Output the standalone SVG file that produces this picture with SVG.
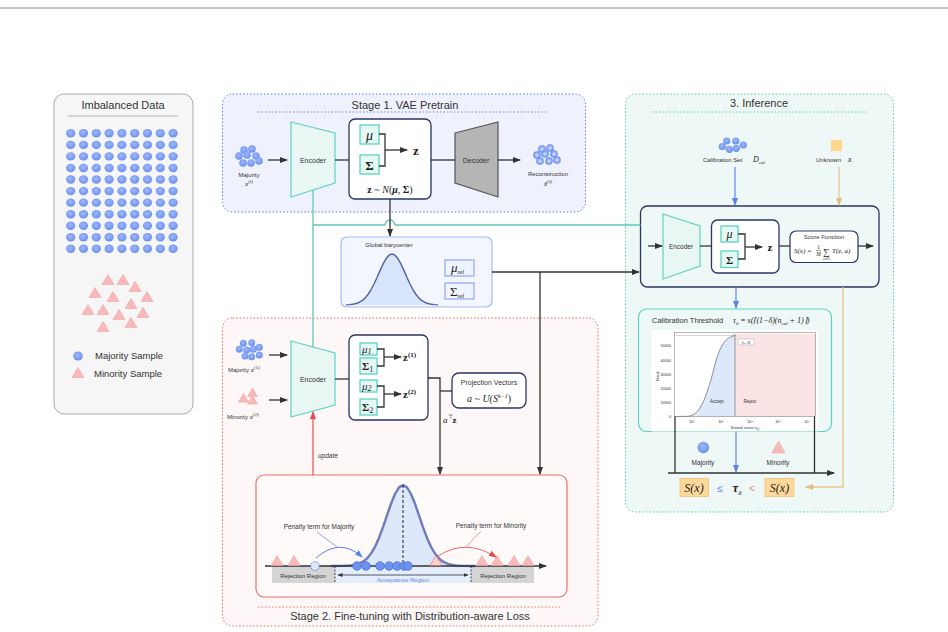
<svg xmlns="http://www.w3.org/2000/svg" xmlns:xlink="http://www.w3.org/1999/xlink" width="948" height="632" viewBox="0 0 948 632">
<style>
.sans{font-family:"Liberation Sans",Arial,sans-serif;fill:#333}
.serif{font-family:"Liberation Serif","Times New Roman",serif;fill:#222}
.t11{font-size:11px}
.t8{font-size:8px}
.t7{font-size:7px}
.t6{font-size:6px}
.enc{fill:#e8f7f4;stroke:#5fd3c0;stroke-width:1.2}
.lat{fill:#fff;stroke:#2c3461;stroke-width:1.3}
.mbox{fill:#e6f8f4;stroke:#4fd1bd;stroke-width:1.2}
.ln{fill:none;stroke:#333;stroke-width:1.3}
.teal{fill:none;stroke:#5cc9b5;stroke-width:1.3}
.maj{fill:url(#gdot)}
.min{fill:#f7b9b9;stroke:#f2a3a3;stroke-width:0.6}
.axdot{fill:#6e93ef;stroke:#4a72e0;stroke-width:0.8}
</style>
<defs>
<radialGradient id="gdot" cx="45%" cy="40%" r="60%">
<stop offset="0" stop-color="#9fb9fa"/>
<stop offset="1" stop-color="#6b8ff0"/>
</radialGradient>
<radialGradient id="gring" cx="50%" cy="50%" r="50%">
<stop offset="0" stop-color="#dfe8ff"/>
<stop offset="0.5" stop-color="#9db6f8"/>
<stop offset="1" stop-color="#5f86ee"/>
</radialGradient>
<marker id="ah" markerWidth="8" markerHeight="6" refX="7" refY="3" orient="auto" markerUnits="userSpaceOnUse"><path d="M0,0 L8,3 L0,6 Z" fill="#333"/></marker>
<marker id="ahb" markerWidth="8" markerHeight="6" refX="7" refY="3" orient="auto" markerUnits="userSpaceOnUse"><path d="M0,0 L8,3 L0,6 Z" fill="#5b82ee"/></marker>
<marker id="aho" markerWidth="8" markerHeight="6" refX="7" refY="3" orient="auto" markerUnits="userSpaceOnUse"><path d="M0,0 L8,3 L0,6 Z" fill="#e2bd83"/></marker>
<marker id="ahr" markerWidth="8" markerHeight="6" refX="7" refY="3" orient="auto" markerUnits="userSpaceOnUse"><path d="M0,0 L8,3 L0,6 Z" fill="#e84a4a"/></marker>
<marker id="ahs" markerWidth="5" markerHeight="4" refX="4.5" refY="2" orient="auto-start-reverse" markerUnits="userSpaceOnUse"><path d="M0,0 L5,2 L0,4 Z" fill="#333"/></marker>
<path id="tri" d="M0,-5.5 L6,4.5 L-6,4.5 Z"/>
<path id="tris" d="M0,-4.5 L5,4 L-5,4 Z"/>
<ellipse id="dot" rx="4.6" ry="4.2"/>
<g id="row">
<use href="#dot" x="70.7"/><use href="#dot" x="83.5"/><use href="#dot" x="96.3"/><use href="#dot" x="109.1"/><use href="#dot" x="121.9"/><use href="#dot" x="134.7"/><use href="#dot" x="147.5"/><use href="#dot" x="160.3"/><use href="#dot" x="173.1"/>
</g>
</defs>

<line x1="0" y1="8" x2="948" y2="8" stroke="#777" stroke-width="0.8"/>

<!-- Left panel -->
<g id="imbalanced-data">
<rect x="54" y="94" width="139" height="320" rx="10" fill="#f6f6f6" stroke="#aaa" stroke-width="1"/>
<text x="123" y="109" text-anchor="middle" class="sans t11">Imbalanced Data</text>
<line x1="68" y1="116" x2="178" y2="116" stroke="#aaa" stroke-width="0.8"/>
<g class="maj">
<use href="#row" y="133.3"/><use href="#row" y="144.9"/><use href="#row" y="156.4"/><use href="#row" y="168"/><use href="#row" y="179.5"/><use href="#row" y="191.1"/><use href="#row" y="202.6"/><use href="#row" y="214.2"/><use href="#row" y="225.7"/><use href="#row" y="237.3"/><use href="#row" y="248.8"/>
</g>
<g class="min">
<use href="#tri" x="108" y="280"/><use href="#tri" x="123" y="280"/><use href="#tri" x="135" y="287"/><use href="#tri" x="95" y="293"/><use href="#tri" x="113" y="297"/><use href="#tri" x="147" y="297"/><use href="#tri" x="131" y="304"/><use href="#tri" x="88" y="310"/><use href="#tri" x="103" y="310"/><use href="#tri" x="119" y="315"/><use href="#tri" x="143" y="313"/><use href="#tri" x="103" y="327"/><use href="#tri" x="131" y="323"/>
</g>
<ellipse cx="78" cy="356" rx="4.8" ry="4.5" class="maj"/>
<text x="95" y="359" class="sans" font-size="9.5">Majority Sample</text>
<use href="#tri" x="78" y="373" class="min"/>
<text x="94" y="377" class="sans" font-size="9.5">Minority Sample</text>
</g>

<!-- Stage 1 -->
<g id="stage1">
<rect x="222.5" y="94" width="363" height="118" rx="10" fill="#eff1fc" stroke="#5b7fe0" stroke-width="1" stroke-dasharray="1.5,2"/>
<text x="405" y="109" text-anchor="middle" class="sans t11">Stage 1. VAE Pretrain</text>
<line x1="258" y1="112" x2="548" y2="112" stroke="#5b7fe0" stroke-width="0.9" stroke-dasharray="1.5,2"/>
</g>
<g id="s1-majority">
<g class="maj">
<circle cx="244" cy="150" r="3.8"/><circle cx="252" cy="149" r="3.8"/><circle cx="239" cy="156" r="3.8"/><circle cx="247" cy="155" r="3.8"/><circle cx="256" cy="156" r="3.8"/><circle cx="243" cy="163" r="3.8"/><circle cx="251" cy="163" r="3.8"/><circle cx="259" cy="161" r="3.8"/>
</g>
<text x="249" y="177" text-anchor="middle" class="sans t6">Majority</text>
<text x="249" y="186" text-anchor="middle" class="serif" font-size="7" font-style="italic">x<tspan font-size="5" dy="-3">(i)</tspan></text>
</g>
<g id="s1-encoder">
<path d="M291,122 L335,133 L335,183 L291,197 Z" class="enc"/>
<text x="313" y="163" text-anchor="middle" class="sans t7">Encoder</text>
</g>
<g id="s1-latent">
<rect x="349" y="119" width="82" height="80" rx="6" class="lat"/>
<rect x="360" y="125" width="19" height="19" class="mbox"/>
<text x="369.5" y="140" text-anchor="middle" class="serif" font-size="14" font-style="italic">μ</text>
<rect x="360" y="155" width="19" height="19" class="mbox"/>
<text x="369.5" y="170" text-anchor="middle" class="serif" font-size="13" font-weight="bold">Σ</text>
<path d="M379,134 H385 V166 H379" class="ln"/>
<path d="M385,150 H407" class="ln" marker-end="url(#ah)"/>
<text x="416" y="155" text-anchor="middle" class="serif" font-size="13" font-weight="bold">z</text>
<text x="390" y="193" text-anchor="middle" class="serif" font-size="10"><tspan font-weight="bold">z</tspan> ~ <tspan font-style="italic">N</tspan>(<tspan font-weight="bold" font-style="italic">μ</tspan>, <tspan font-weight="bold">Σ</tspan>)</text>
</g>
<g id="s1-decoder">
<path d="M455,133 L498,122 L498,197 L455,183 Z" fill="#b5b5b5" stroke="#555" stroke-width="1.2"/>
<text x="476" y="163" text-anchor="middle" class="sans t7">Decoder</text>
</g>
<g id="s1-reconstruction">
<g fill="url(#gring)">
<circle cx="542" cy="149" r="3.8"/><circle cx="550" cy="148" r="3.8"/><circle cx="537" cy="155" r="3.8"/><circle cx="545" cy="154" r="3.8"/><circle cx="554" cy="154" r="3.8"/><circle cx="540" cy="161" r="3.8"/><circle cx="549" cy="161" r="3.8"/><circle cx="557" cy="160" r="3.8"/>
</g>
<text x="548" y="176" text-anchor="middle" class="sans t6">Reconstruction</text>
<text x="548" y="186" text-anchor="middle" class="serif" font-size="7" font-style="italic">x̂<tspan font-size="5" dy="-3">(i)</tspan></text>
</g>

<!-- Global barycenter -->
<g id="barycenter">
<rect x="341" y="237" width="151" height="70" rx="6" fill="#f4f6fe" stroke="#a9b9f5" stroke-width="1.2"/>
<text x="389" y="247" text-anchor="middle" class="sans" font-size="6">Global barycenter</text>
<path d="M346,304.9 L350,304.6 L354,304 L358,302.9 L362,300.7 L365,298.1 L368,294.5 L371,289.8 L374,284 L377,277.5 L380,270.6 L383,264.2 L386,258.8 L389,255.2 L392,254 L395,255.2 L398,258.8 L401,264.2 L404,270.6 L407,277.5 L410,284 L413,289.8 L416,294.5 L419,298.1 L422,300.7 L426,302.9 L430,304 L434,304.6 L438,304.9 Z" fill="#d9e5fb" stroke="none"/>
<path d="M346,304.9 L350,304.6 L354,304 L358,302.9 L362,300.7 L365,298.1 L368,294.5 L371,289.8 L374,284 L377,277.5 L380,270.6 L383,264.2 L386,258.8 L389,255.2 L392,254 L395,255.2 L398,258.8 L401,264.2 L404,270.6 L407,277.5 L410,284 L413,289.8 L416,294.5 L419,298.1 L422,300.7 L426,302.9 L430,304 L434,304.6 L438,304.9" fill="none" stroke="#4f5f9e" stroke-width="1.4" stroke-linejoin="round"/>
<rect x="445" y="260" width="29" height="16" fill="#f0f4ff" stroke="#8fa8ef" stroke-width="1.2"/>
<text x="451" y="272" class="serif" font-size="13" font-style="italic">μ<tspan font-size="6" font-style="normal" dy="2">ref</tspan></text>
<rect x="445" y="283" width="29" height="16" fill="#f0f4ff" stroke="#8fa8ef" stroke-width="1.2"/>
<text x="450" y="296" class="serif" font-size="13">Σ<tspan font-size="6" dy="2">ref</tspan></text>
</g>

<!-- Stage 2 -->
<g id="stage2">
<rect x="222.5" y="318" width="375.5" height="308" rx="10" fill="#fdf7f7" stroke="#e66a6a" stroke-width="1" stroke-dasharray="1.5,2"/>
<line x1="258" y1="607" x2="560" y2="607" stroke="#e66a6a" stroke-width="0.9" stroke-dasharray="1.5,2"/>
<text x="410" y="620" text-anchor="middle" class="sans t11">Stage 2. Fine-tuning with Distribution-aware Loss</text>
</g>
<g id="s2-inputs">
<g class="maj">
<circle cx="243.3" cy="343.3" r="3.5"/><circle cx="251.7" cy="342.7" r="3.5"/><circle cx="239.3" cy="349.3" r="3.5"/><circle cx="246.7" cy="350" r="3.5"/><circle cx="253.3" cy="349.3" r="3.5"/><circle cx="259.3" cy="347.3" r="3.5"/><circle cx="245" cy="356" r="3.5"/><circle cx="251.7" cy="356.7" r="3.5"/><circle cx="259.3" cy="355" r="3.5"/>
</g>
<text x="228" y="372" class="sans t6">Majority <tspan class="serif" font-size="7" font-style="italic">x<tspan font-size="5" dy="-3">(1)</tspan></tspan></text>
<g class="min">
<use href="#tris" x="243.5" y="398"/><use href="#tris" x="252.5" y="392.5"/><use href="#tris" x="252.5" y="400"/>
</g>
<text x="227" y="419" class="sans t6">Minority <tspan class="serif" font-size="7" font-style="italic">x<tspan font-size="5" dy="-3">(2)</tspan></tspan></text>
</g>
<g id="s2-encoder">
<path d="M291,341 L335,353 L335,405 L291,417 Z" class="enc"/>
<text x="313" y="382" text-anchor="middle" class="sans t7">Encoder</text>
</g>
<g id="s2-latent">
<rect x="349" y="335" width="79" height="85" rx="6" class="lat"/>
<rect x="360" y="343" width="17" height="12" class="mbox"/>
<text x="362" y="353" class="serif" font-size="11" font-style="italic">μ<tspan font-size="8" dy="1">1</tspan></text>
<rect x="360" y="358" width="17" height="16" class="mbox"/>
<text x="362" y="370" class="serif" font-size="11" font-weight="bold">Σ<tspan font-size="8" font-weight="normal" dy="2">1</tspan></text>
<rect x="360" y="380" width="17" height="12" class="mbox"/>
<text x="362" y="390" class="serif" font-size="11" font-style="italic">μ<tspan font-size="8" dy="1">2</tspan></text>
<rect x="360" y="399" width="17" height="16" class="mbox"/>
<text x="362" y="411" class="serif" font-size="11" font-weight="bold">Σ<tspan font-size="8" font-weight="normal" dy="2">2</tspan></text>
<path d="M377,349 H384 V366 H377" class="ln"/>
<path d="M384,357 H401" class="ln" marker-end="url(#ah)"/>
<text x="403" y="361" class="serif" font-size="11" font-weight="bold">z<tspan font-size="7" dy="-4">(1)</tspan></text>
<path d="M377,386 H384 V407 H377" class="ln"/>
<path d="M384,394 H401" class="ln" marker-end="url(#ah)"/>
<text x="403" y="398" class="serif" font-size="11" font-weight="bold">z<tspan font-size="7" dy="-4">(2)</tspan></text>
</g>
<g id="s2-projection">
<rect x="452" y="373" width="74" height="35" rx="7" class="lat"/>
<text x="489" y="385" text-anchor="middle" class="sans" font-size="7">Projection Vectors</text>
<text x="489" y="402" text-anchor="middle" class="serif" font-size="10" font-style="italic">a ~ U(S<tspan font-size="6" dy="-4">k−1</tspan><tspan dy="4" font-style="normal">)</tspan></text>
</g>
<g id="s2-loss">
<rect x="256" y="475" width="311" height="122" rx="8" fill="#fffafa" stroke="#ec6f6f" stroke-width="1.2"/>
<rect x="272" y="566" width="63" height="17" fill="#d4d4d4"/>
<rect x="471" y="566" width="63" height="17" fill="#d4d4d4"/>
<rect x="335" y="566" width="136" height="17" fill="#e3edfc"/>
<path d="M331,566 L343,565.9 L351,565.4 L357,564.3 L363,561.7 L367,558.5 L371,553.6 L375,546.8 L379,537.9 L383,527.1 L387,515.4 L391,503.8 L395,494 L399,487.4 L403,485 L407,487.4 L411,494 L415,503.8 L419,515.4 L423,527.1 L427,537.9 L431,546.8 L435,553.6 L439,558.5 L443,561.7 L449,564.3 L455,565.4 L463,565.9 L475,566 Z" fill="#dde9fb"/>
<path d="M331,566 L343,565.9 L351,565.4 L357,564.3 L363,561.7 L367,558.5 L371,553.6 L375,546.8 L379,537.9 L383,527.1 L387,515.4 L391,503.8 L395,494 L399,487.4 L403,485 L407,487.4 L411,494 L415,503.8 L419,515.4 L423,527.1 L427,537.9 L431,546.8 L435,553.6 L439,558.5 L443,561.7 L449,564.3 L455,565.4 L463,565.9 L475,566" fill="none" stroke="#6e7cbb" stroke-width="2.4" stroke-linejoin="round"/>
<line x1="403" y1="485" x2="403" y2="566" stroke="#222" stroke-width="1" stroke-dasharray="3,2"/>
<line x1="335" y1="566" x2="335" y2="583" stroke="#333" stroke-width="0.9" stroke-dasharray="2,1.5"/>
<line x1="471" y1="566" x2="471" y2="583" stroke="#333" stroke-width="0.9" stroke-dasharray="2,1.5"/>
<path d="M338,575 H468" fill="none" stroke="#333" stroke-width="0.8" marker-start="url(#ahs)" marker-end="url(#ahs)"/>
<path d="M265,566 H546" class="ln" marker-end="url(#ah)"/>
<text x="303" y="578" text-anchor="middle" class="sans" font-size="6">Rejection Region</text>
<text x="403" y="582" text-anchor="middle" class="sans" font-size="6" style="fill:#6a8ee6">Acceptance Region</text>
<text x="503" y="578" text-anchor="middle" class="sans" font-size="6">Rejection Region</text>
<g class="min">
<use href="#tri" x="277" y="561"/><use href="#tri" x="294" y="561"/><use href="#tri" x="482" y="561"/><use href="#tri" x="497" y="561"/><use href="#tri" x="514" y="561"/><use href="#tri" x="528" y="561"/>
</g>
<use href="#tri" x="436" y="561" fill="#f9d0d0" stroke="#e06060" stroke-width="0.9" stroke-dasharray="1.5,1"/>
<circle cx="315" cy="566" r="4.3" fill="#dfe8ff" stroke="#4a72e0" stroke-width="1" stroke-dasharray="1.5,1"/>
<circle cx="357" cy="566" r="4.3" class="axdot"/><circle cx="366" cy="566" r="4.3" class="axdot"/><circle cx="380" cy="566" r="4.3" class="axdot"/><circle cx="389" cy="566" r="4.3" class="axdot"/><circle cx="397" cy="566" r="4.3" class="axdot"/><circle cx="404" cy="566" r="4.3" class="axdot"/><circle cx="408" cy="566" r="4.3" class="axdot"/>
<path d="M316,558 Q340,537 362,557" fill="none" stroke="#5b7fe0" stroke-width="1" marker-end="url(#ahb)"/>
<line x1="317" y1="532" x2="337" y2="547" stroke="#5b7fe0" stroke-width="0.7"/>
<text x="319" y="529" text-anchor="middle" class="sans" font-size="6.5">Penalty term for Majority</text>
<path d="M438,556 Q466,538 496,557" fill="none" stroke="#e86a6a" stroke-width="1" marker-end="url(#ahr)"/>
<line x1="481" y1="531" x2="465" y2="548" stroke="#e86a6a" stroke-width="0.7"/>
<text x="491" y="528" text-anchor="middle" class="sans" font-size="6.5">Penalty term for Minority</text>
</g>

<!-- Inference -->
<g id="inference">
<rect x="625.5" y="94" width="268" height="418" rx="10" fill="#eef8f6" stroke="#5cc9b5" stroke-width="1" stroke-dasharray="1.5,2"/>
<text x="759" y="107" text-anchor="middle" class="sans t11">3. Inference</text>
<line x1="652" y1="112" x2="868" y2="112" stroke="#5cc9b5" stroke-width="0.9" stroke-dasharray="1.5,2"/>
</g>
<g id="calibration-set">
<g class="maj">
<circle cx="726.7" cy="141" r="3.6"/><circle cx="735.7" cy="141" r="3.6"/><circle cx="722.3" cy="146.5" r="3.6"/><circle cx="729.3" cy="149.3" r="3.6"/><circle cx="736.3" cy="148.3" r="3.6"/><circle cx="743.3" cy="145" r="3.6"/>
</g>
<text x="703" y="162" class="sans t6">Calibration Set</text>
<text x="753" y="162" class="serif" font-size="8" font-style="italic">D<tspan font-size="5" dy="2">cal</tspan></text>
</g>
<g id="unknown-x">
<rect x="831" y="140" width="11" height="11" fill="#fdd88a"/>
<text x="816" y="162" class="sans t6">Unknown</text>
<text x="848" y="162" class="serif" font-size="8" font-style="italic">x</text>
</g>
<g id="inf-model">
<rect x="640.5" y="206" width="238.5" height="81" rx="7" fill="#eef8f6" stroke="#2c3461" stroke-width="1.3"/>
<path d="M663,214 L700,226 L700,266 L663,279 Z" class="enc"/>
<text x="681" y="249" text-anchor="middle" class="sans" font-size="6.5">Encoder</text>
<rect x="711.5" y="220" width="67.5" height="53" rx="6" class="lat"/>
<rect x="721" y="226" width="17" height="16" class="mbox"/>
<text x="729.5" y="238" text-anchor="middle" class="serif" font-size="12" font-style="italic">μ</text>
<rect x="721" y="251" width="17" height="16.5" class="mbox"/>
<text x="729.5" y="264" text-anchor="middle" class="serif" font-size="11" font-weight="bold">Σ</text>
<path d="M738,234 H745 V259 H738" class="ln"/>
<path d="M745,247 H762" class="ln" marker-end="url(#ah)"/>
<text x="770" y="251" text-anchor="middle" class="serif" font-size="11" font-weight="bold">z</text>
<rect x="790" y="231" width="68" height="31.5" rx="6" fill="#fff" stroke="#2c3461" stroke-width="1.2"/>
<text x="824" y="239" text-anchor="middle" class="sans" font-size="6">Score Function</text>
<text x="794" y="253" class="serif" font-size="7" font-style="italic">S(x) =</text>
<text x="818.5" y="249" text-anchor="middle" class="serif" font-size="5.5">1</text>
<line x1="816" y1="250.5" x2="821" y2="250.5" stroke="#222" stroke-width="0.4"/>
<text x="818.5" y="256" text-anchor="middle" class="serif" font-size="5.5" font-style="italic">M</text>
<text x="823" y="255" class="serif" font-size="9">∑</text>
<text x="823" y="260" class="serif" font-size="3.5" font-style="italic">a∈A</text>
<text x="832" y="253" class="serif" font-size="7" font-style="italic">T(z, a)</text>
</g>
<g id="calibration-threshold">
<rect x="638.5" y="309" width="193" height="122.5" rx="8" fill="#eef8f6" stroke="#5fd3c0" stroke-width="1.2"/>
<text x="652" y="323" class="sans" font-size="7.5">Calibration Threshold</text>
<text x="733" y="323" class="serif" font-size="8" font-style="italic">τ<tspan font-size="5" dy="2">δ</tspan><tspan dy="-2"> = s(⌈(1−δ)(n</tspan><tspan font-size="5" dy="2">cal</tspan><tspan dy="-2"> + 1)⌉)</tspan></text>
<rect x="651.5" y="330" width="166.5" height="101.5" fill="#fff"/>
<rect x="735" y="334" width="80.5" height="82.5" fill="#fce4e4"/>
<path d="M688,416.5 C700,415 705,400 712,376 C718,352 722,338 735,335.5 L735,416.5 Z" fill="#dde8fb"/>
<path d="M674.5,416.5 L688,416.3 C700,415 705,400 712,376 C718,352 722,338 735,335.5" fill="none" stroke="#777" stroke-width="0.8"/>
<line x1="674.5" y1="335.5" x2="735" y2="335.5" stroke="#666" stroke-width="0.5" stroke-dasharray="1,1"/>
<rect x="674.5" y="332.5" width="141" height="84" fill="none" stroke="#888" stroke-width="0.6"/>
<line x1="735" y1="334" x2="735" y2="416.5" stroke="#777" stroke-width="0.7"/>
<rect x="738" y="339" width="16" height="6" fill="#fff" stroke="#999" stroke-width="0.4"/>
<text x="746" y="344" text-anchor="middle" class="sans" font-size="3.5">(τ<tspan font-size="2.5">δ</tspan>, δ)</text>
<text x="717" y="403" text-anchor="middle" class="sans" font-size="4.5">Accept</text>
<text x="750" y="403" text-anchor="middle" class="sans" font-size="4.5">Reject</text>
<g class="sans" font-size="3.8" text-anchor="end">
<text x="671" y="418">0</text><text x="671" y="404">10000</text><text x="671" y="390">20000</text><text x="671" y="376">30000</text><text x="671" y="362">40000</text><text x="671" y="347">50000</text>
</g>
<text x="659" y="376" text-anchor="middle" class="sans" font-size="4" transform="rotate(-90 659 376)">Rank</text>
<g class="sans" font-size="3.8" text-anchor="middle">
<text x="692" y="423">10<tspan font-size="2.5" dy="-1.5">0</tspan></text><text x="721" y="423">10<tspan font-size="2.5" dy="-1.5">1</tspan></text><text x="750" y="423">10<tspan font-size="2.5" dy="-1.5">2</tspan></text><text x="778" y="423">10<tspan font-size="2.5" dy="-1.5">3</tspan></text><text x="807" y="423">10<tspan font-size="2.5" dy="-1.5">4</tspan></text>
</g>
<text x="745" y="429" text-anchor="middle" class="sans" font-size="4">Sorted score s<tspan font-size="3" dy="1">(i)</tspan></text>
</g>
<g id="decision">
<ellipse cx="703.3" cy="447.5" rx="5.8" ry="5.8" class="maj"/>
<text x="703" y="465" text-anchor="middle" class="sans" font-size="6.5">Majority</text>
<path d="M778.5,441 L785,453 L772,453 Z" class="min"/>
<text x="778" y="465" text-anchor="middle" class="sans" font-size="6.5">Minority</text>
<rect x="680" y="478.5" width="28.5" height="18" fill="#fcd99a" stroke="#f0c070" stroke-width="0.8"/>
<text x="694" y="492" text-anchor="middle" class="serif" font-size="12" font-style="italic">S(x)</text>
<text x="720" y="492" text-anchor="middle" class="sans" font-size="10" style="fill:#5b82ee">≤</text>
<text x="737" y="492" text-anchor="middle" class="serif" font-size="13" font-weight="bold" font-style="italic">τ<tspan font-size="7" font-weight="normal" dy="3">δ</tspan></text>
<text x="752" y="492" text-anchor="middle" class="sans" font-size="10" style="fill:#f07c7c">&lt;</text>
<rect x="765" y="478.5" width="29" height="18" fill="#fcd99a" stroke="#f0c070" stroke-width="0.8"/>
<text x="779.5" y="492" text-anchor="middle" class="serif" font-size="12" font-style="italic">S(x)</text>
</g>

<!-- Connectors -->
<g id="connectors">
<path d="M268,160 H287" class="ln" marker-end="url(#ah)"/>
<path d="M335,160 H349" class="ln"/>
<path d="M431,160 H455" class="ln"/>
<path d="M498,160 H520" class="ln" marker-end="url(#ah)"/>
<path d="M313,190 V347" class="teal"/>
<path d="M313,225 H385 A5,5 0 0 1 395,225 H640.5" class="teal"/>
<path d="M390,199 V236" class="ln" marker-end="url(#ah)"/>
<path d="M492,272 H639" class="ln" marker-end="url(#ah)"/>
<path d="M540,272 V474" class="ln" marker-end="url(#ah)"/>
<path d="M269,355 H287" class="ln" marker-end="url(#ah)"/>
<path d="M269,400 H287" class="ln" marker-end="url(#ah)"/>
<path d="M335,379 H349" class="ln"/>
<path d="M428,378 H440 V474" class="ln" marker-end="url(#ah)"/>
<path d="M440,391 H452" class="ln"/>
<text x="443" y="423" class="serif" font-size="9" font-style="italic">a<tspan font-size="6" font-style="normal" dy="-4">⊤</tspan><tspan font-weight="bold" font-style="normal" dy="4">z</tspan></text>
<path d="M313,475 V412" fill="none" stroke="#e84a4a" stroke-width="1.2" marker-end="url(#ahr)"/>
<text x="318" y="458" class="sans" font-size="6.5" font-style="italic">update</text>
<path d="M735,167 V205" fill="none" stroke="#6a8ef0" stroke-width="1.3" marker-end="url(#ahb)"/>
<path d="M839,167 V205" fill="none" stroke="#e6c48a" stroke-width="1.3" marker-end="url(#aho)"/>
<path d="M648,246 H662" class="ln" marker-end="url(#ah)"/>
<path d="M700,246 H711.5" class="ln"/>
<path d="M779,246 H790" class="ln"/>
<path d="M858,246 H873" class="ln" marker-end="url(#ah)"/>
<path d="M736,287 V308" fill="none" stroke="#6a8ef0" stroke-width="1.3" marker-end="url(#ahb)"/>
<path d="M843,287 V487 H806" fill="none" stroke="#e6c48a" stroke-width="1.3" marker-end="url(#aho)"/>
<path d="M675,416.5 V473 M814.5,416.5 V473" class="ln"/>
<path d="M668,473 H834" class="ln" marker-end="url(#ah)"/>
<path d="M736,431.5 V472" fill="none" stroke="#6a8ef0" stroke-width="1.3" marker-end="url(#ahb)"/>
</g>
</svg>
